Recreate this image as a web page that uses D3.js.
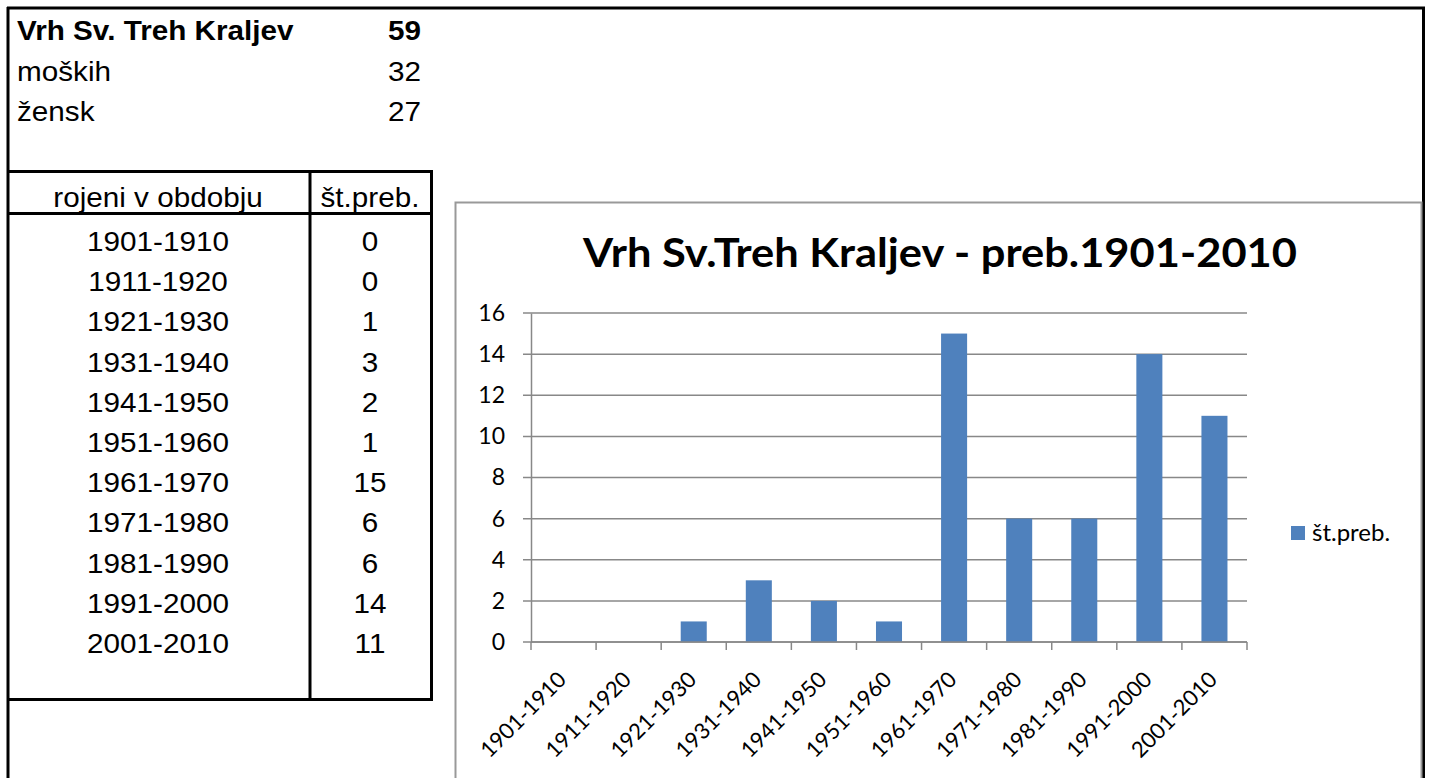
<!DOCTYPE html>
<html lang="sl">
  <head>
    <meta charset="UTF-8" />
    <title>Vrh Sv. Treh Kraljev</title>
    <style>
      html,
      body {
        margin: 0;
        background: #fff;
      }
      svg {
        display: block;
      }
    </style>
    <script src="https://cdn.jsdelivr.net/npm/d3@7"></script>
  </head>
  <body>
    <script>
      // podatki
      const periods = [
        "1901-1910", "1911-1920", "1921-1930", "1931-1940", "1941-1950", "1951-1960",
        "1961-1970", "1971-1980", "1981-1990", "1991-2000", "2001-2010",
      ];
      const counts = [0, 0, 1, 3, 2, 1, 15, 6, 6, 14, 11];
      const yTicks = [0, 2, 4, 6, 8, 10, 12, 14, 16];
      const summaryLabels = ["Vrh Sv. Treh Kraljev", "moških", "žensk"];
      const summaryValues = [59, 32, 27];
      const tableHeaders = ["rojeni v obdobju", "št.preb."];
      const chartTitle = "Vrh Sv.Treh Kraljev - preb.1901-2010";
      const seriesName = "št.preb.";

      const width = 1429;
      const height = 778;
      const blue = "#4f81bd";
      const grid = "#888";
      const tableFont = "'Liberation Sans', Arial, sans-serif";
      const chartFont = "Lato, 'Open Sans', sans-serif";
      const stretch = 1.06; // Excel celice so malo razširjene vodoravno

      const svg = d3
        .select("body")
        .append("svg")
        .attr("width", width)
        .attr("height", height);

      svg.append("rect").attr("width", width).attr("height", height).attr("fill", "#fff");

      // besedilo v celici (razširjeno vodoravno)
      function cellText(g, x, y, t, anchor, bold) {
        return g
          .append("text")
          .attr("transform", `translate(${x}, ${y}) scale(${stretch}, 1)`)
          .attr("text-anchor", anchor)
          .attr("font-weight", bold ? "bold" : "normal")
          .text(t);
      }

      // okvir lista
      const frame = svg.append("g").attr("stroke", "#000").attr("stroke-width", 3);
      frame.append("line").attr("x1", 7).attr("x2", 1425).attr("y1", 8).attr("y2", 8);
      frame.append("line").attr("x1", 8).attr("x2", 8).attr("y1", 7).attr("y2", height);
      frame.append("line").attr("x1", 1423.5).attr("x2", 1423.5).attr("y1", 7).attr("y2", height);

      // povzetek zgoraj levo
      const summary = svg.append("g").attr("font-family", tableFont).attr("font-size", 28).attr("fill", "#000");
      summaryLabels.forEach((t, i) => {
        cellText(summary, 17, 40 + i * 40.5, t, "start", i === 0);
        cellText(summary, 421, 40 + i * 40.5, summaryValues[i], "end", i === 0);
      });

      // tabela
      const table = svg.append("g");
      const tLines = table.append("g").attr("stroke", "#000").attr("stroke-width", 3);
      tLines.append("line").attr("x1", 8).attr("x2", 433).attr("y1", 171.5).attr("y2", 171.5);
      tLines.append("line").attr("x1", 8).attr("x2", 433).attr("y1", 213.5).attr("y2", 213.5);
      tLines.append("line").attr("x1", 8).attr("x2", 433).attr("y1", 699.5).attr("y2", 699.5);
      tLines.append("line").attr("x1", 310).attr("x2", 310).attr("y1", 170).attr("y2", 701);
      tLines.append("line").attr("x1", 431.5).attr("x2", 431.5).attr("y1", 170).attr("y2", 701);

      const tText = table.append("g").attr("font-family", tableFont).attr("font-size", 28).attr("fill", "#000");
      cellText(tText, 158, 207, tableHeaders[0], "middle", false);
      cellText(tText, 370, 207, tableHeaders[1], "middle", false);

      periods.forEach((p, i) => {
        cellText(tText, 158, 251 + i * 40.2, p, "middle", false);
        cellText(tText, 370, 251 + i * 40.2, counts[i], "middle", false);
      });

      // graf
      const chart = svg.append("g");
      chart
        .append("rect")
        .attr("x", 455.5)
        .attr("y", 202.5)
        .attr("width", 966)
        .attr("height", 620)
        .attr("fill", "#fff")
        .attr("stroke", "#999")
        .attr("stroke-width", 2);

      chart
        .append("text")
        .attr("x", 940)
        .attr("y", 267)
        .attr("text-anchor", "middle")
        .attr("font-family", chartFont)
        .attr("font-weight", "bold")
        .attr("font-size", 40)
        .attr("textLength", 714)
        .attr("lengthAdjust", "spacingAndGlyphs")
        .text(chartTitle);

      const margin = { left: 531, right: 1247, top: 313, bottom: 642 };

      const xScale = d3
        .scaleBand()
        .domain(periods)
        .range([margin.left, margin.right])
        .paddingInner(0.6)
        .paddingOuter(0.3);

      const xTickScale = d3.scaleBand().domain(periods).range([margin.left, margin.right]);

      const yScale = d3.scaleLinear().domain([0, 16]).range([margin.bottom, margin.top]);

      // mreža
      chart
        .append("g")
        .selectAll("line")
        .data(yTicks)
        .join("line")
        .attr("x1", margin.left - 8)
        .attr("x2", margin.right)
        .attr("y1", (d) => yScale(d))
        .attr("y2", (d) => yScale(d))
        .attr("stroke", grid)
        .attr("stroke-width", 1.5);

      // os y
      const yAxis = d3.axisLeft(yScale).tickValues(yTicks).tickSize(0).tickPadding(26);
      const gy = chart
        .append("g")
        .attr("transform", `translate(${margin.left}, 0)`)
        .call(yAxis);
      gy.select(".domain").attr("stroke", grid).attr("stroke-width", 1.5);
      gy.selectAll("text")
        .attr("font-family", chartFont)
        .attr("font-size", 23)
        .attr("fill", "#000");

      // stolpci
      chart
        .append("g")
        .selectAll("rect")
        .data(counts)
        .join("rect")
        .attr("x", (d, i) => xScale(periods[i]))
        .attr("y", (d) => yScale(d))
        .attr("width", xScale.bandwidth())
        .attr("height", (d) => yScale(0) - yScale(d))
        .attr("fill", blue);

      // os x
      const boundaries = periods.map((p) => xTickScale(p)).concat([margin.right]);
      const gx = chart.append("g");
      gx.append("line")
        .attr("x1", margin.left)
        .attr("x2", margin.right)
        .attr("y1", margin.bottom)
        .attr("y2", margin.bottom)
        .attr("stroke", grid)
        .attr("stroke-width", 1.5);
      gx.selectAll(".tick")
        .data(boundaries)
        .join("line")
        .attr("class", "tick")
        .attr("x1", (d) => d)
        .attr("x2", (d) => d)
        .attr("y1", margin.bottom)
        .attr("y2", margin.bottom + 8)
        .attr("stroke", grid)
        .attr("stroke-width", 1.5);
      gx.selectAll(".label")
        .data(periods)
        .join("text")
        .attr("class", "label")
        .attr("transform", (d) => `translate(${xTickScale(d) + xTickScale.bandwidth() / 2 + 4}, 681) rotate(-45)`)
        .attr("text-anchor", "end")
        .attr("font-family", chartFont)
        .attr("font-size", 22)
        .attr("fill", "#000")
        .text((d) => d);

      // legenda
      const legend = chart.append("g").attr("transform", "translate(1291, 526)");
      legend.append("rect").attr("width", 14).attr("height", 14).attr("fill", blue);
      legend
        .append("text")
        .attr("x", 21)
        .attr("y", 15)
        .attr("font-family", chartFont)
        .attr("font-size", 24)
        .attr("fill", "#000")
        .text(seriesName);
    </script>
  </body>
</html>
